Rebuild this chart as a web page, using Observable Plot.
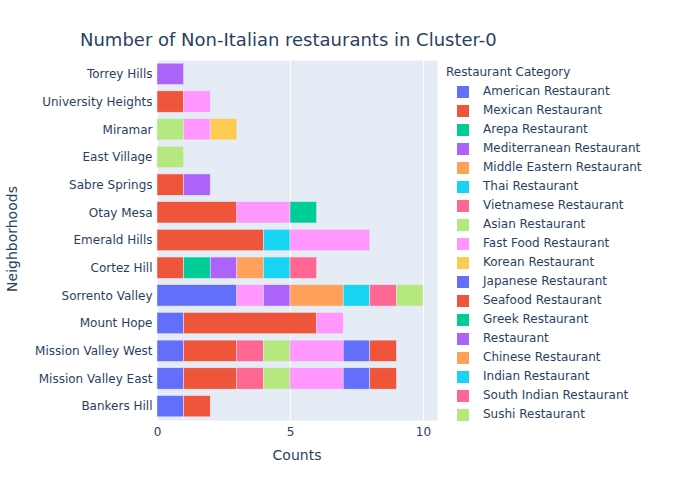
<!DOCTYPE html>
<html><head><meta charset="utf-8">
<script src="https://cdn.jsdelivr.net/npm/d3@7"></script>
<script src="https://cdn.jsdelivr.net/npm/@observablehq/plot@0.6"></script>
<style>
body{margin:0;background:#fff;font-family:"DejaVu Sans",sans-serif;color:#2a3f5f;}
#wrap{position:relative;width:700px;height:500px;overflow:hidden;}
#chart{position:absolute;left:0;top:0;}
.title{position:absolute;left:80px;top:30px;font-size:18px;line-height:20px;white-space:nowrap;}
.xlabel{position:absolute;left:157px;width:280px;top:446px;text-align:center;font-size:14px;line-height:18px;}
.ylabel{position:absolute;left:12px;top:239px;font-size:14px;line-height:18px;transform:translate(-50%,-50%) rotate(-90deg);white-space:nowrap;}
.legend{position:absolute;left:446px;top:63px;font-size:12px;}
.legend .lt{height:19px;line-height:19px;}
.legend .it{height:19px;line-height:19px;display:flex;align-items:center;}
.legend .sw{width:12px;height:12px;margin-left:11px;margin-right:14px;}
</style></head><body>
<div id="wrap"><div id="chart"></div></div>
<script>
const categories = ["American Restaurant","Mexican Restaurant","Arepa Restaurant","Mediterranean Restaurant","Middle Eastern Restaurant","Thai Restaurant","Vietnamese Restaurant","Asian Restaurant","Fast Food Restaurant","Korean Restaurant","Japanese Restaurant","Seafood Restaurant","Greek Restaurant","Restaurant","Chinese Restaurant","Indian Restaurant","South Indian Restaurant","Sushi Restaurant"];
const palette = ["#636EFA","#EF553B","#00CC96","#AB63FA","#FFA15A","#19D3F3","#FF6692","#B6E880","#FF97FF","#FECB52"];
const neighborhoods = ["Torrey Hills","University Heights","Miramar","East Village","Sabre Springs","Otay Mesa","Emerald Hills","Cortez Hill","Sorrento Valley","Mount Hope","Mission Valley West","Mission Valley East","Bankers Hill"];
const xTicks = [0, 5, 10];

const segNeighborhood = [
 "Bankers Hill","Bankers Hill",
 "Mission Valley East","Mission Valley East","Mission Valley East","Mission Valley East","Mission Valley East","Mission Valley East","Mission Valley East",
 "Mission Valley West","Mission Valley West","Mission Valley West","Mission Valley West","Mission Valley West","Mission Valley West","Mission Valley West",
 "Mount Hope","Mount Hope","Mount Hope",
 "Sorrento Valley","Sorrento Valley","Sorrento Valley","Sorrento Valley","Sorrento Valley","Sorrento Valley","Sorrento Valley",
 "Cortez Hill","Cortez Hill","Cortez Hill","Cortez Hill","Cortez Hill","Cortez Hill",
 "Emerald Hills","Emerald Hills","Emerald Hills",
 "Otay Mesa","Otay Mesa","Otay Mesa",
 "Sabre Springs","Sabre Springs",
 "East Village",
 "Miramar","Miramar","Miramar",
 "University Heights","University Heights",
 "Torrey Hills"];
const segCategory = [
 "American Restaurant","Mexican Restaurant",
 "American Restaurant","Mexican Restaurant","Vietnamese Restaurant","Asian Restaurant","Fast Food Restaurant","Japanese Restaurant","Seafood Restaurant",
 "American Restaurant","Mexican Restaurant","Vietnamese Restaurant","Asian Restaurant","Fast Food Restaurant","Japanese Restaurant","Seafood Restaurant",
 "American Restaurant","Mexican Restaurant","Fast Food Restaurant",
 "American Restaurant","Fast Food Restaurant","Restaurant","Chinese Restaurant","Indian Restaurant","South Indian Restaurant","Sushi Restaurant",
 "Mexican Restaurant","Arepa Restaurant","Mediterranean Restaurant","Middle Eastern Restaurant","Thai Restaurant","Vietnamese Restaurant",
 "Mexican Restaurant","Thai Restaurant","Fast Food Restaurant",
 "Mexican Restaurant","Fast Food Restaurant","Greek Restaurant",
 "Mexican Restaurant","Mediterranean Restaurant",
 "Asian Restaurant",
 "Asian Restaurant","Fast Food Restaurant","Korean Restaurant",
 "Mexican Restaurant","Fast Food Restaurant",
 "Restaurant"];
const segCount = [
 1,1,
 1,2,1,1,2,1,1,
 1,2,1,1,2,1,1,
 1,5,1,
 3,1,1,2,1,1,1,
 1,1,1,1,1,1,
 4,1,3,
 3,2,1,
 1,1,
 1,
 1,1,1,
 1,1,
 1];

const data = segCount.map((c, i) => ({neighborhood: segNeighborhood[i], category: segCategory[i], count: c}))
  .map((d, i) => ({...d, idx: i}))
  .sort((a, b) => categories.indexOf(a.category) - categories.indexOf(b.category) || a.idx - b.idx);

const colorRange = categories.map((_, i) => palette[i % palette.length]);

const chart = Plot.plot({
  width: 440, height: 500,
  marginTop: 60, marginBottom: 80, marginLeft: 157, marginRight: 3,
  style: {fontFamily: "'DejaVu Sans', sans-serif", fontSize: "12px", color: "#2a3f5f", background: "transparent", overflow: "visible"},
  x: {domain: [0, 10.526], ticks: xTicks, tickSize: 0, tickPadding: 7, label: null},
  y: {domain: neighborhoods, paddingInner: 0.23, paddingOuter: 0.115, round: false, tickSize: 0, tickPadding: 5, label: null},
  color: {domain: categories, range: colorRange},
  marks: [
    Plot.frame({fill: "#E5ECF6", stroke: null}),
    Plot.ruleX(xTicks, {stroke: "#ffffff", strokeWidth: 1}),
    Plot.barX(data, {x: "count", y: "neighborhood", fill: "category", stroke: "#E5ECF6", strokeWidth: 0.5})
  ]
});
document.getElementById("chart").appendChild(chart);

const wrap = document.getElementById("wrap");
const t = document.createElement("div"); t.className = "title"; t.textContent = "Number of Non-Italian restaurants in Cluster-0"; wrap.appendChild(t);
const xl = document.createElement("div"); xl.className = "xlabel"; xl.textContent = "Counts"; wrap.appendChild(xl);
const yl = document.createElement("div"); yl.className = "ylabel"; yl.textContent = "Neighborhoods"; wrap.appendChild(yl);
const lg = document.createElement("div"); lg.className = "legend";
const lt = document.createElement("div"); lt.className = "lt"; lt.textContent = "Restaurant Category"; lg.appendChild(lt);
categories.forEach((c, i) => {
  const it = document.createElement("div"); it.className = "it";
  const sw = document.createElement("div"); sw.className = "sw"; sw.style.background = colorRange[i];
  const tx = document.createElement("span"); tx.textContent = c;
  it.appendChild(sw); it.appendChild(tx); lg.appendChild(it);
});
wrap.appendChild(lg);
</script>
</body></html>
